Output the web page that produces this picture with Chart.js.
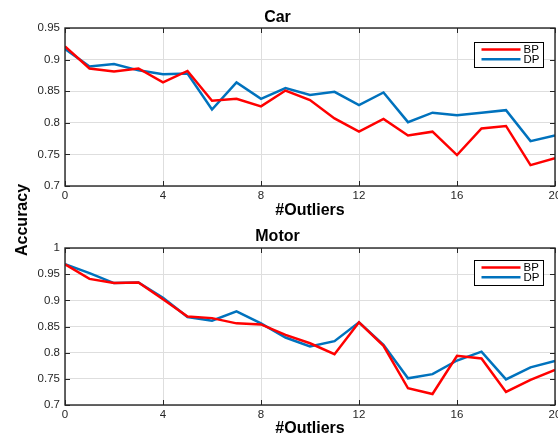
<!DOCTYPE html>
<html>
<head>
<meta charset="utf-8">
<script src="https://cdn.jsdelivr.net/npm/chart.js@4.4.1/dist/chart.umd.min.js"></script>
<style>
  html, body { margin: 0; padding: 0; background: #fff; }
  #wrap { position: relative; width: 558px; height: 439px; overflow: hidden; }
  canvas { position: absolute; left: 0; }
  #carChart { top: 0; }
  #motorChart { top: 219px; }
  #ylabel {
    position: absolute; left: 22px; top: 220px;
    transform: translate(-50%, -50%) rotate(-90deg);
    font: bold 16px "Liberation Sans", Arial, sans-serif; color: #000;
    white-space: nowrap;
  }
</style>
</head>
<body>
<div id="wrap">
  <canvas id="carChart" width="558" height="219"></canvas>
  <canvas id="motorChart" width="558" height="220"></canvas>
  <div id="ylabel">Accuracy</div>
</div>
<script>
// number of outliers on the x axis
const outliers = [0, 1, 2, 3, 4, 5, 6, 7, 8, 9, 10, 11, 12, 13, 14, 15, 16, 17, 18, 19, 20];

// Car
const carBP = [0.921, 0.886, 0.881, 0.886, 0.864, 0.882, 0.835, 0.838, 0.826, 0.851, 0.836, 0.807, 0.786, 0.806, 0.780, 0.786, 0.749, 0.791, 0.795, 0.733, 0.744];
const carDP = [0.917, 0.889, 0.893, 0.883, 0.877, 0.878, 0.821, 0.864, 0.838, 0.855, 0.844, 0.849, 0.828, 0.848, 0.801, 0.816, 0.812, 0.816, 0.820, 0.771, 0.780];
const carYRange = [0.7, 0.95];

// Motor
const motorBP = [0.969, 0.941, 0.933, 0.934, 0.902, 0.869, 0.866, 0.856, 0.854, 0.834, 0.818, 0.797, 0.858, 0.813, 0.732, 0.721, 0.794, 0.789, 0.725, 0.748, 0.767];
const motorDP = [0.969, 0.952, 0.933, 0.934, 0.905, 0.868, 0.861, 0.879, 0.856, 0.829, 0.812, 0.822, 0.858, 0.815, 0.751, 0.759, 0.785, 0.802, 0.749, 0.772, 0.784];
const motorYRange = [0.7, 1];

const seriesNames = ['BP', 'DP'];
const seriesColors = ['#ff0000', '#0072bd'];

const FONT = '"Liberation Sans", Arial, Helvetica, sans-serif';
const AXIS_COLOR = '#262626';

// box around the plot with inward tick marks on all four sides, plus the legend
const boxPlugin = {
  id: 'box',
  afterDatasetsDraw(chart, args, opts) {
    const { ctx, chartArea: a, scales } = chart;
    ctx.save();
    ctx.strokeStyle = AXIS_COLOR;
    ctx.lineWidth = 1.4;
    ctx.strokeRect(a.left, a.top, a.right - a.left, a.bottom - a.top);
    const len = 5;
    ctx.lineWidth = 1;
    ctx.beginPath();
    scales.x.ticks.forEach(t => {
      const px = Math.round(scales.x.getPixelForValue(t.value)) + 0.5;
      ctx.moveTo(px, a.bottom); ctx.lineTo(px, a.bottom - len);
      ctx.moveTo(px, a.top); ctx.lineTo(px, a.top + len);
    });
    scales.y.ticks.forEach(t => {
      const py = Math.round(scales.y.getPixelForValue(t.value)) + 0.5;
      ctx.moveTo(a.left, py); ctx.lineTo(a.left + len, py);
      ctx.moveTo(a.right, py); ctx.lineTo(a.right - len, py);
    });
    ctx.stroke();

    // legend
    const w = 69, h = 25;
    const bx = Math.round(a.right - 12 - w) + 0.5;
    const by = Math.round(a.top + opts.legendTop) + 0.5;
    ctx.fillStyle = '#fff';
    ctx.fillRect(bx, by, w, h);
    ctx.strokeStyle = '#000';
    ctx.strokeRect(bx, by, w, h);
    ctx.font = '11.5px ' + FONT;
    ctx.textBaseline = 'middle';
    ctx.textAlign = 'left';
    chart.data.datasets.forEach((ds, i) => {
      const ly = by + 7 + i * 9.8;
      ctx.strokeStyle = ds.borderColor;
      ctx.lineWidth = 2.5;
      ctx.beginPath();
      ctx.moveTo(bx + 7, ly); ctx.lineTo(bx + 46, ly);
      ctx.stroke();
      ctx.fillStyle = '#000';
      ctx.fillText(ds.label, bx + 49, ly + 0.5);
    });
    ctx.restore();
  }
};

function makeChart(id, title, bp, dp, yRange, layout) {
  const series = [bp, dp];
  return new Chart(document.getElementById(id), {
    type: 'line',
    data: {
      datasets: series.map((vals, i) => ({
        label: seriesNames[i],
        data: vals.map((v, k) => ({ x: outliers[k], y: v })),
        borderColor: seriesColors[i],
        borderWidth: 2.5,
        pointRadius: 0,
        tension: 0,
        fill: false
      }))
    },
    options: {
      responsive: false,
      animation: false,
      devicePixelRatio: 1,
      layout: { padding: { left: 0, right: 3, top: 0, bottom: 0 } },
      plugins: {
        legend: { display: false },
        tooltip: { enabled: false },
        title: {
          display: true,
          text: title,
          color: '#000',
          font: { family: FONT, size: 16, weight: 'bold', lineHeight: 1.2 },
          padding: { top: layout.titleTop, bottom: layout.titleBottom }
        },
        box: { legendTop: layout.legendTop }
      },
      scales: {
        x: {
          type: 'linear',
          min: outliers[0],
          max: outliers[outliers.length - 1],
          grid: { color: '#dedede', drawTicks: false },
          border: { display: false },
          ticks: {
            stepSize: 4,
            padding: 3,
            color: AXIS_COLOR,
            maxRotation: 0,
            font: { family: FONT, size: 11.5 }
          },
          title: {
            display: true,
            text: '#Outliers',
            color: '#000',
            font: { family: FONT, size: 16, weight: 'bold', lineHeight: 1 },
            padding: { top: 0, bottom: layout.xTitleBottom }
          },
          afterFit(scale) {
            scale.height = layout.xHeight;
            scale.paddingLeft = 0;
            scale.paddingRight = 0;
          }
        },
        y: {
          min: yRange[0],
          max: yRange[1],
          grid: { color: '#dedede', drawTicks: false },
          border: { display: false },
          ticks: {
            stepSize: 0.05,
            padding: 5,
            color: AXIS_COLOR,
            font: { family: FONT, size: 11.5 },
            callback: v => String(+v.toFixed(2))
          },
          afterFit(scale) {
            scale.width = 65;
          }
        }
      }
    },
    plugins: [boxPlugin]
  });
}

makeChart('carChart', 'Car', carBP, carDP, carYRange,
  { titleTop: 8, titleBottom: 0.8, xHeight: 33, xTitleBottom: 0, legendTop: 13.5 });
makeChart('motorChart', 'Motor', motorBP, motorDP, motorYRange,
  { titleTop: 8, titleBottom: 1.8, xHeight: 34, xTitleBottom: 2, legendTop: 12 });
</script>
</body>
</html>
